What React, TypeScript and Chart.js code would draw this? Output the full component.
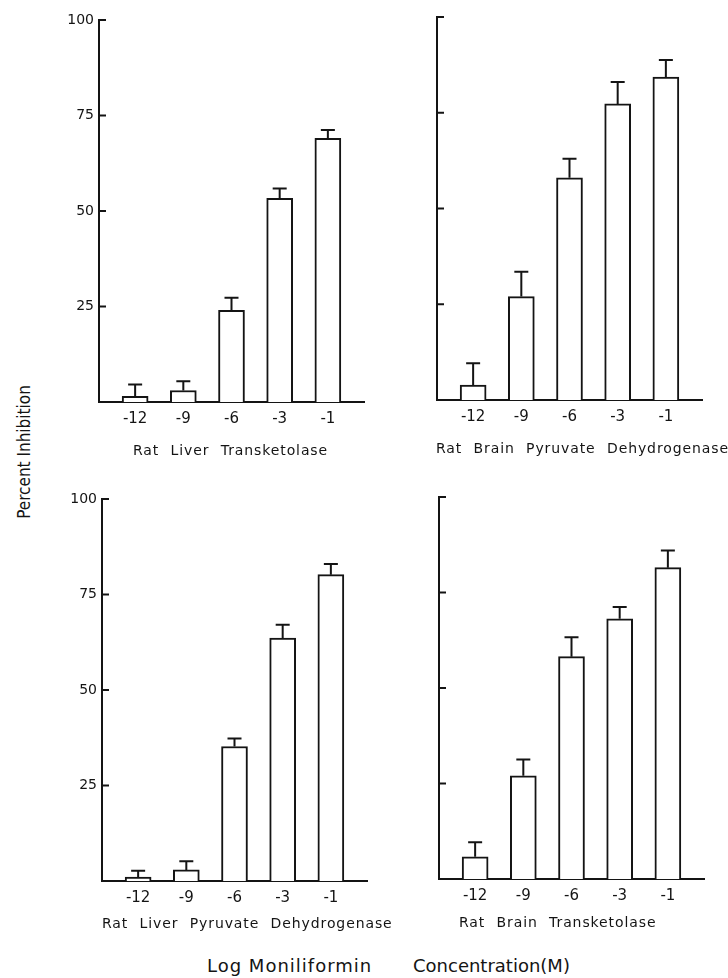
import React, { useEffect, useRef } from "react";
import { Chart, registerables } from "chart.js";

Chart.register(...registerables);
Chart.defaults.font.family = "'DejaVu Sans', sans-serif";

const INK = "#141414";

// Categories (log molar concentration)
const concentrations = ["-12", "-9", "-6", "-3", "-1"];
const yTickValues = [25, 50, 75, 100];

// Percent inhibition (bar heights) and upper error (SE)
const liverTransketolase = [1.5, 3.0, 24, 53.3, 69.0];
const liverTransketolaseErr = [3.1, 2.4, 3.3, 2.6, 2.2];

const brainPyruvateDH = [3.9, 27, 58, 77.3, 84.3];
const brainPyruvateDHErr = [5.7, 6.5, 5.0, 5.7, 4.5];

const liverPyruvateDH = [1.0, 2.9, 35.2, 63.6, 80.2];
const liverPyruvateDHErr = [1.7, 2.3, 2.1, 3.5, 2.8];

const brainTransketolase = [5.8, 27, 58.2, 68.1, 81.5];
const brainTransketolaseErr = [3.8, 4.3, 5.1, 3.1, 4.5];

const panelTitles = [
  "Rat Liver Transketolase",
  "Rat Brain Pyruvate Dehydrogenase",
  "Rat Liver Pyruvate Dehydrogenase",
  "Rat Brain Transketolase",
];
const yAxisTitle = "Percent Inhibition";
const xAxisTitleA = "Log Moniliformin";
const xAxisTitleB = "Concentration(M)";

const errorBarPlugin = {
  id: "errorBars",
  afterDatasetsDraw(chart: any, _args: any, opts: any) {
    const ctx = chart.ctx;
    const meta = chart.getDatasetMeta(0);
    const ys = chart.scales.y;
    const errs: number[] = opts.errors || [];
    const data = chart.data.datasets[0].data;
    ctx.save();
    ctx.strokeStyle = INK;
    ctx.lineWidth = 2;
    meta.data.forEach((bar: any, i: number) => {
      const v = data[i].y;
      const top = ys.getPixelForValue(v + errs[i]);
      ctx.beginPath();
      ctx.moveTo(bar.x, bar.y);
      ctx.lineTo(bar.x, top);
      ctx.moveTo(bar.x - 7, top);
      ctx.lineTo(bar.x + 7, top);
      ctx.stroke();
    });
    const ca = chart.chartArea;
    yTickValues.forEach((t) => {
      const py = ys.getPixelForValue(t);
      ctx.beginPath();
      ctx.moveTo(ca.left, py);
      ctx.lineTo(ca.left + 7, py);
      ctx.stroke();
    });
    ctx.restore();
  },
};

type Area = { l: number; t: number; r: number; b: number };

const Y_W = 60;
const PAD_T = 20;
const PAD_R = 10;
const X_H = 45;

function Panel({
  values,
  errors,
  area,
  showY,
}: {
  values: number[];
  errors: number[];
  area: Area;
  showY: boolean;
}) {
  const ref = useRef<HTMLCanvasElement>(null);
  const width = Y_W + (area.r - area.l) + PAD_R;
  const height = PAD_T + (area.b - area.t) + X_H;

  useEffect(() => {
    if (!ref.current) return;
    const chart = new Chart(ref.current, {
      type: "bar",
      data: {
        datasets: [
          {
            data: values.map((v, i) => ({ x: i, y: v })),
            backgroundColor: "#ffffff",
            borderColor: INK,
            borderWidth: 2,
            barThickness: 26,
          } as any,
        ],
      },
      options: {
        responsive: false,
        animation: false,
        layout: { padding: { top: PAD_T, right: PAD_R, left: 0, bottom: 0 } },
        plugins: {
          legend: { display: false },
          tooltip: { enabled: false },
          errorBars: { errors },
        } as any,
        scales: {
          x: {
            type: "linear",
            offset: false,
            min: -0.75,
            max: 4.75,
            grid: { display: false, drawTicks: false, offset: false },
            border: { display: true, color: INK, width: 2 },
            afterBuildTicks: (s: any) => {
              s.ticks = concentrations.map((_, i) => ({ value: i }));
            },
            afterFit: (s: any) => {
              s.height = X_H;
            },
            ticks: {
              autoSkip: false,
              maxRotation: 0,
              padding: 8,
              color: INK,
              font: { size: 15 },
              callback: (v: any) => concentrations[v] ?? "",
            },
          },
          y: {
            min: 0,
            max: 100,
            grid: { display: false, drawTicks: false },
            border: { display: true, color: INK, width: 2 },
            afterBuildTicks: (s: any) => {
              s.ticks = yTickValues.map((v) => ({ value: v }));
            },
            afterFit: (s: any) => {
              s.width = Y_W;
            },
            ticks: {
              display: showY,
              padding: 5,
              color: INK,
              font: { size: 14 },
            },
          },
        } as any,
      },
      plugins: [errorBarPlugin],
    });
    return () => chart.destroy();
  }, []);

  return (
    <canvas
      ref={ref}
      width={width}
      height={height}
      style={{
        position: "absolute",
        left: area.l - Y_W,
        top: area.t - PAD_T,
        width,
        height,
      }}
    />
  );
}

const titleStyle: React.CSSProperties = {
  position: "absolute",
  fontFamily: "'DejaVu Sans', sans-serif",
  fontSize: 14,
  letterSpacing: 0.9,
  wordSpacing: 6,
  color: INK,
  whiteSpace: "nowrap",
  transform: "translateY(-50%)",
  lineHeight: "16px",
};

export default function App() {
  return (
    <div
      style={{
        position: "absolute",
        left: 0,
        top: 0,
        width: 728,
        height: 978,
        background: "#ffffff",
        overflow: "hidden",
      }}
    >
      <Panel values={liverTransketolase} errors={liverTransketolaseErr} area={{ l: 99, t: 20, r: 364, b: 402 }} showY={true} />
      <Panel values={brainPyruvateDH} errors={brainPyruvateDHErr} area={{ l: 437, t: 17, r: 702, b: 400 }} showY={false} />
      <Panel values={liverPyruvateDH} errors={liverPyruvateDHErr} area={{ l: 102, t: 499, r: 367, b: 881 }} showY={true} />
      <Panel values={brainTransketolase} errors={brainTransketolaseErr} area={{ l: 439, t: 497, r: 704, b: 879 }} showY={false} />

      <div style={{ ...titleStyle, left: 133, top: 450 }}>{panelTitles[0]}</div>
      <div style={{ ...titleStyle, left: 436, top: 448 }}>{panelTitles[1]}</div>
      <div style={{ ...titleStyle, left: 102, top: 923 }}>{panelTitles[2]}</div>
      <div style={{ ...titleStyle, left: 459, top: 922 }}>{panelTitles[3]}</div>

      <div
        style={{
          position: "absolute",
          left: 24,
          top: 452,
          transform: "translate(-50%, -50%) rotate(-90deg)",
          fontFamily: "'DejaVu Sans Condensed', 'DejaVu Sans', sans-serif",
          fontSize: 17,
          color: INK,
          whiteSpace: "nowrap",
        }}
      >
        {yAxisTitle}
      </div>

      <div style={{ ...titleStyle, fontSize: 18, letterSpacing: 1, wordSpacing: 0, left: 207, top: 966, lineHeight: "20px" }}>
        {xAxisTitleA}
      </div>
      <div style={{ ...titleStyle, fontSize: 18, letterSpacing: 0, wordSpacing: 0, left: 413, top: 966, lineHeight: "20px" }}>
        {xAxisTitleB}
      </div>
    </div>
  );
}
